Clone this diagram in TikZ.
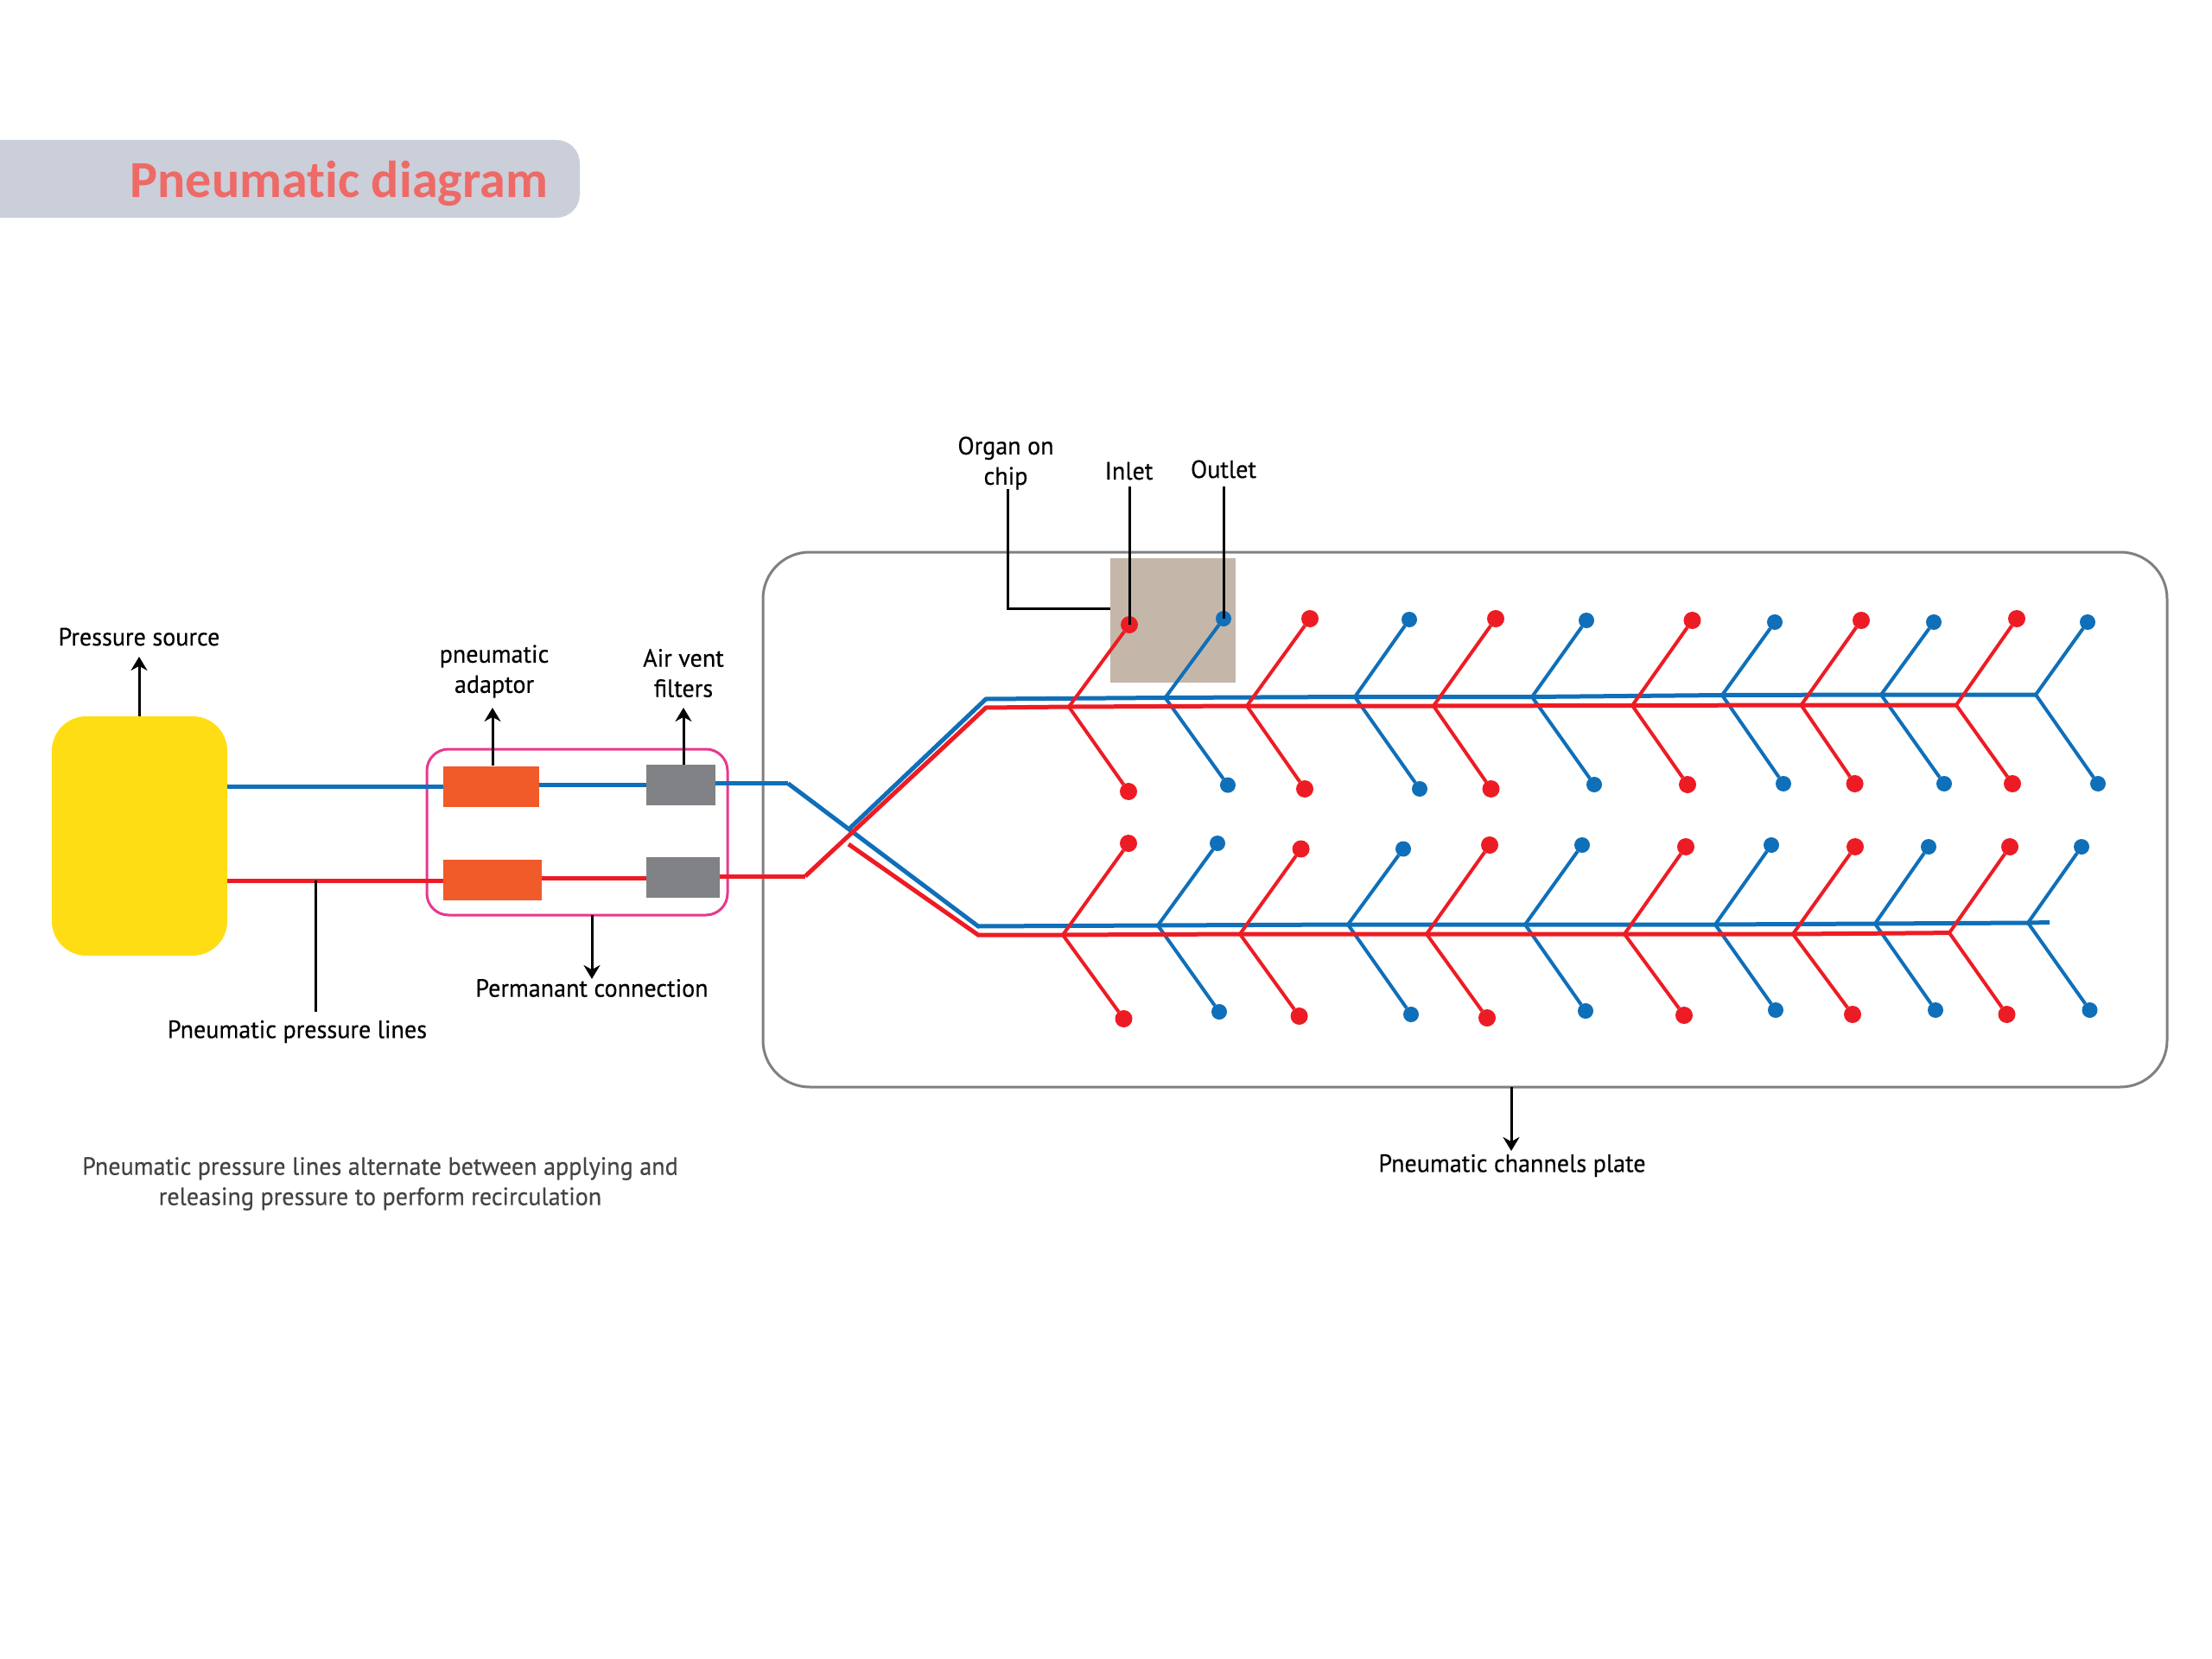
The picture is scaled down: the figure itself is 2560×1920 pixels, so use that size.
\documentclass[tikz,border=0pt]{standalone}
\usepackage{fontspec}
\setmainfont[FakeStretch=0.97,FakeBold=0.3]{PT Sans}
\newfontfamily\titlefont[Ligatures=NoCommon]{Carlito}
\usetikzlibrary{arrows.meta}
\definecolor{bl}{HTML}{0F6FB9}
\definecolor{rd}{HTML}{ED1C24}
\definecolor{org}{HTML}{F15A29}
\definecolor{gry}{HTML}{808285}
\definecolor{yel}{HTML}{FFDD15}
\definecolor{pnk}{HTML}{E6398E}
\definecolor{frm}{HTML}{808080}
\definecolor{chipc}{HTML}{C4B7A9}
\definecolor{ban}{HTML}{CBCFDA}
\definecolor{tit}{HTML}{EE6A66}
\definecolor{cap}{HTML}{444444}
\tikzset{
  boxsize/.style 2 args={minimum width=#1*0.5pt,minimum height=#2*0.5pt,inner sep=0pt,outer sep=0pt},
  bmain/.style={draw=bl,line width=2.5pt,line join=miter},
  rmain/.style={draw=rd,line width=2.5pt,line join=miter},
  bbr/.style={draw=bl,line width=2pt},
  rbr/.style={draw=rd,line width=2pt},
  bdot/.style={circle,fill=bl,minimum size=9pt,inner sep=0pt,outer sep=0pt},
  rdot/.style={circle,fill=rd,minimum size=10pt,inner sep=0pt,outer sep=0pt},
  lead/.style={draw=black,line width=1.5pt},
  arr/.style={draw=black,line width=1.5pt,-{Stealth[length=8pt,width=9.5pt]}},
  lbl/.style={font=\fontsize{14.5}{17.5}\selectfont,align=center,inner sep=0pt,text=black},
  capt/.style={lbl,text=cap}
}
\begin{document}
\begin{tikzpicture}[x=0.5pt,y=-0.5pt]
\useasboundingbox (0,0) rectangle (2560,1920);
\clip (0,0) rectangle (2560,1920);
\fill[white] (0,0) rectangle (2560,1920);
% banner
\fill[ban,rounded corners=13.5pt] (-60,162) rectangle (671,252);
\node[anchor=base west,inner sep=0pt,text=tit,font=\titlefont\bfseries\fontsize{30.1}{34}\selectfont] (title) at (150,229) {Pneumatic diagram};
% plate and chip
\node[boxsize={1625}{619},draw=frm,line width=1.5pt,rounded corners=27pt] (plate) at (1695.5,948.5) {};
\node[boxsize={145}{144},fill=chipc] (chip) at (1357.5,718) {};
\node[boxsize={348}{192},draw=pnk,line width=1.5pt,rounded corners=12.5pt] (conn) at (668,963) {};
% fixed coordinates
\coordinate (bS) at (263,910);
\coordinate (rS) at (263,1019);
\coordinate (bM) at (700,908.6);
\coordinate (rM) at (700,1016.5);
\coordinate (bT) at (912,906.7);
\coordinate (rT) at (932,1014);
\coordinate (bF) at (982,960);
\coordinate (rF) at (982,977);
\coordinate (bUc) at (1141,809);
\coordinate (rUc) at (1141,819);
\coordinate (bLc) at (1132,1072);
\coordinate (rLc) at (1132,1082);
\coordinate (bEnd) at (2372,1067.5);
% blue branches, top and bottom
\foreach \n/\jx/\jy/\ux/\uy/\dx/\dy in {
 1/1348.5/807.5/1416/716/1421/908.6,
 2/1568/806.5/1631/717/1643/913,
 3/1773/806.5/1836/718/1845/908,
 4/1993/804.5/2054/720/2064/907,
 5/2177/804/2238/720/2250/907,
 6/2356/804/2416/720/2428/907,
 7/1340/1071/1409/976/1411/1171,
 8/1560/1070/1624/982.5/1633/1174,
 9/1765/1070/1831/978/1835/1170,
 10/1985/1070/2050/978/2055/1169,
 11/2170/1069/2232/980/2240/1169,
 12/2347/1068/2409/980/2418.5/1169}{
  \coordinate (bJ\n) at (\jx,\jy);
  \node[bdot] (bU\n) at (\ux,\uy) {};
  \node[bdot] (bD\n) at (\dx,\dy) {};
  \draw[bbr] (bU\n) -- (bJ\n) -- (bD\n);
}
% blue mains
\draw[bmain] (bF) -- (bUc) -- (bJ1) -- (bJ2) -- (bJ3) -- (bJ4) -- (bJ5) -- (bJ6);
\draw[bmain] (bT) -- (bLc) -- (bJ7) -- (bJ8) -- (bJ9) -- (bJ10) -- (bJ11) -- (bJ12) -- (bEnd);
% red branches
\foreach \n/\jx/\jy/\ux/\uy/\dx/\dy in {
 1/1237/818/1307/723/1306/916,
 2/1443/817/1516/716/1510/913,
 3/1659/817/1731/716/1725.5/913,
 4/1889/816.5/1958.5/718/1953/908,
 5/2084.5/816/2154/718/2146.6/907,
 6/2264/816/2334/716/2329/907,
 7/1230/1082/1306/976/1300.5/1179,
 8/1435/1081/1505.6/982.5/1503.6/1176,
 9/1651/1081/1724/978/1721/1178,
 10/1880/1081/1951/980/1949/1175,
 11/2075/1081/2147/980/2144/1174,
 12/2256/1079.6/2326/980/2322.5/1174}{
  \coordinate (rJ\n) at (\jx,\jy);
  \node[rdot] (rU\n) at (\ux,\uy) {};
  \node[rdot] (rD\n) at (\dx,\dy) {};
  \draw[rbr] (rU\n) -- (rJ\n) -- (rD\n);
}
% red mains
\draw[rmain] (rF) -- (rLc) -- (rJ7) -- (rJ8) -- (rJ9) -- (rJ10) -- (rJ11) -- (rJ12);
\draw[rmain] (rT) -- (rUc) -- (rJ1) -- (rJ2) -- (rJ3) -- (rJ4) -- (rJ5) -- (rJ6);
% components
\node[boxsize={203}{277},fill=yel,rounded corners=20pt] (src) at (161.5,967.5) {};
\node[boxsize={111}{47},fill=org] (ad1) at (568.5,910) {};
\node[boxsize={114}{47},fill=org] (ad2) at (570,1018.5) {};
\node[boxsize={80}{47},fill=gry] (fl1) at (788,908.5) {};
\node[boxsize={85}{47},fill=gry] (fl2) at (790.5,1015.5) {};
% lines through components
\draw[bmain] (bS) -- (ad1.west |- bS);
\draw[bmain] (ad1.east |- bM) -- (fl1.west |- bM);
\draw[bmain] (fl1.east |- bT) -- (bT);
\draw[rmain] (rS) -- (ad2.west |- rS);
\draw[rmain] (ad2.east |- rM) -- (fl2.west |- rM);
\draw[rmain] (fl2.east |- rT) -- (rT);
% labels
\node[lbl] (tSrc) at (161,737) {Pressure source};
\node[lbl] (tAd) at (572,777) {pneumatic\\adaptor};
\node[lbl] (tFl) at (791,779) {Air vent\\filters};
\node[lbl] (tConn) at (685,1143.5) {Permanant connection};
\node[lbl] (tLines) at (344,1194) {Pneumatic pressure lines};
\node[capt] (tCap) at (440,1370) {Pneumatic pressure lines alternate between applying and\\releasing pressure to perform recirculation};
\node[lbl] (tChip) at (1164,536) {Organ on\\chip};
\node[lbl] (tIn) at (1306.6,545) {Inlet};
\node[lbl] (tOut) at (1416,543) {Outlet};
\node[lbl] (tPlate) at (1750,1349) {Pneumatic channels plate};
% leaders
\coordinate (srcTop) at (161,829);
\coordinate (srcTip) at (161,760);
\coordinate (adTop) at (570,886);
\coordinate (adTip) at (570,819);
\coordinate (flTop) at (791,885);
\coordinate (flTip) at (791,819);
\coordinate (cnBot) at (685,1059);
\coordinate (cnTip) at (685,1133);
\coordinate (lnTop) at (365.5,1019);
\coordinate (lnBot) at (365.5,1171);
\coordinate (plBot) at (1749,1258);
\coordinate (plTip) at (1749,1332);
\coordinate (orgTop) at (1166,566);
\coordinate (orgBend) at (1166,704.5);
\coordinate (inTop) at (1307,563);
\coordinate (outTop) at (1416,563);
\draw[arr] (srcTop) -- (srcTip);
\draw[arr] (adTop) -- (adTip);
\draw[arr] (flTop) -- (flTip);
\draw[arr] (cnBot) -- (cnTip);
\draw[arr] (plBot) -- (plTip);
\draw[lead] (lnTop) -- (lnBot);
\draw[lead] (orgTop) -- (orgBend) -- (orgBend -| chip.west);
\draw[lead] (inTop) -- (rU1.center);
\draw[lead] (outTop) -- (bU1.center);
\end{tikzpicture}
\end{document}
